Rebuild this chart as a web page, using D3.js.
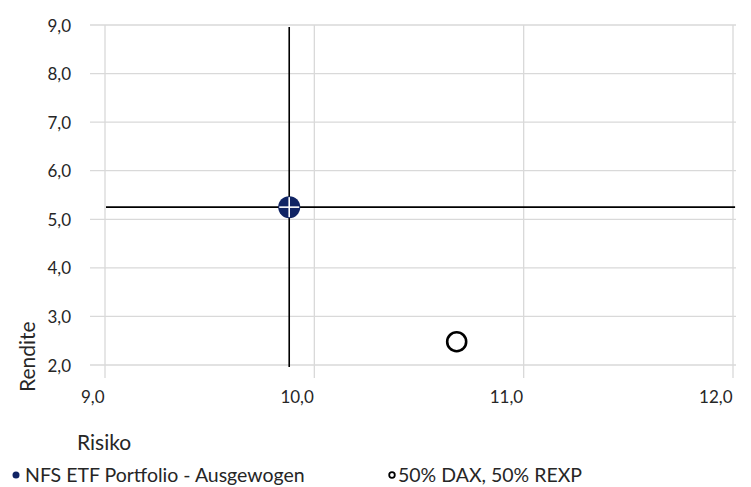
<!DOCTYPE html>
<html>
<head>
<meta charset="utf-8">
<script src="https://cdn.jsdelivr.net/npm/d3@7"></script>
<style>
body { margin: 0; background: #fff; }
text { font-family: Lato, "Open Sans", sans-serif; fill: #262626; }
</style>
</head>
<body>
<script>
// data
var seriesNames = ["NFS ETF Portfolio - Ausgewogen", "50% DAX, 50% REXP"];
var risk = [9.88, 10.68];
var ret = [5.25, 2.48];
var xTicks = [9, 10, 11, 12];
var yTicks = [2, 3, 4, 5, 6, 7, 8, 9];
// lines through the portfolio point (x from / to, y from / to)
var crossX = [9, 12.01];
var crossY = [2, 9];

var w = 751;
var h = 487;

var de = d3.formatLocale({decimal: ",", thousands: ".", grouping: [3], currency: ["", "€"]});
var fmt = de.format(".1f");

var svg = d3.select("body")
			.append("svg")
			.attr("width", w)
			.attr("height", h);

var x = d3.scaleLinear().domain([9, 12]).range([105, 733]);
var y = d3.scaleLinear().domain([2, 9]).range([365, 25]);

// gridlines
svg.selectAll("line.hgrid")
   .data(yTicks)
   .enter()
   .append("line")
   .attr("class", "hgrid")
   .attr("x1", x(9) - 15)
   .attr("x2", x(12) + 3)
   .attr("y1", function(d) { return y(d); })
   .attr("y2", function(d) { return y(d); })
   .attr("stroke", "#d9d9d9")
   .attr("stroke-width", 1.3);

svg.selectAll("line.vgrid")
   .data(xTicks)
   .enter()
   .append("line")
   .attr("class", "vgrid")
   .attr("x1", function(d) { return x(d); })
   .attr("x2", function(d) { return x(d); })
   .attr("y1", y(9))
   .attr("y2", y(2) + 13)
   .attr("stroke", "#d9d9d9")
   .attr("stroke-width", 1.3);

// axes (labels only)
var yAxis = svg.append("g")
	.attr("transform", "translate(71,0)")
	.call(d3.axisLeft(y).tickValues(yTicks).tickFormat(fmt).tickSize(0).tickPadding(0));
yAxis.select(".domain").remove();
yAxis.selectAll("text")
	 .attr("font-size", "17px")
	 .attr("dy", "0.36em")
	 .style("font-family", "Lato, sans-serif")
	 .attr("fill", "#262626");

var xAxis = svg.append("g")
	.attr("transform", "translate(0,403)")
	.call(d3.axisBottom(x).tickValues(xTicks).tickFormat(fmt).tickSize(0).tickPadding(0));
xAxis.select(".domain").remove();
xAxis.selectAll("text")
	 .attr("font-size", "17px")
	 .attr("text-anchor", "end")
	 .attr("y", 0)
	 .attr("dy", 0)
	 .attr("dx", -1)
	 .style("font-family", "Lato, sans-serif")
	 .attr("fill", "#262626");

// cross lines
svg.append("line")
   .attr("x1", x(risk[0])).attr("x2", x(risk[0]))
   .attr("y1", y(crossY[1]) + 2).attr("y2", y(crossY[0]) + 2)
   .attr("stroke", "#000").attr("stroke-width", 1.6);
svg.append("line")
   .attr("x1", x(crossX[0]) + 1).attr("x2", x(crossX[1]))
   .attr("y1", y(ret[0])).attr("y2", y(ret[0]))
   .attr("stroke", "#000").attr("stroke-width", 1.6);

// portfolio point
svg.append("circle")
   .attr("cx", x(risk[0]))
   .attr("cy", y(ret[0]))
   .attr("r", 11)
   .attr("fill", "#102464");
svg.append("line")
   .attr("x1", x(risk[0]) - 10).attr("x2", x(risk[0]) + 10)
   .attr("y1", y(ret[0])).attr("y2", y(ret[0]))
   .attr("stroke", "#fff").attr("stroke-width", 1.6);
svg.append("line")
   .attr("x1", x(risk[0])).attr("x2", x(risk[0]))
   .attr("y1", y(ret[0]) - 10).attr("y2", y(ret[0]) + 10)
   .attr("stroke", "#fff").attr("stroke-width", 1.6);

// benchmark point
svg.append("circle")
   .attr("cx", x(risk[1]))
   .attr("cy", y(ret[1]))
   .attr("r", 9.5)
   .attr("fill", "#fff")
   .attr("stroke", "#000")
   .attr("stroke-width", 2.6);

// axis titles
svg.append("text")
   .text("Rendite")
   .attr("transform", "translate(35,392) rotate(-90)")
   .attr("font-size", "21px");
svg.append("text")
   .text("Risiko")
   .attr("x", 77)
   .attr("y", 450)
   .attr("font-size", "21px");

// legend
svg.append("circle").attr("cx", 16).attr("cy", 475).attr("r", 3.5).attr("fill", "#102464");
svg.append("text").text(seriesNames[0]).attr("x", 25).attr("y", 482).attr("font-size", "19.5px");
svg.append("circle").attr("cx", 392).attr("cy", 475).attr("r", 2.8)
   .attr("fill", "#fff").attr("stroke", "#000").attr("stroke-width", 1.8);
svg.append("text").text(seriesNames[1]).attr("x", 398).attr("y", 482).attr("font-size", "19.5px");
</script>
</body>
</html>
